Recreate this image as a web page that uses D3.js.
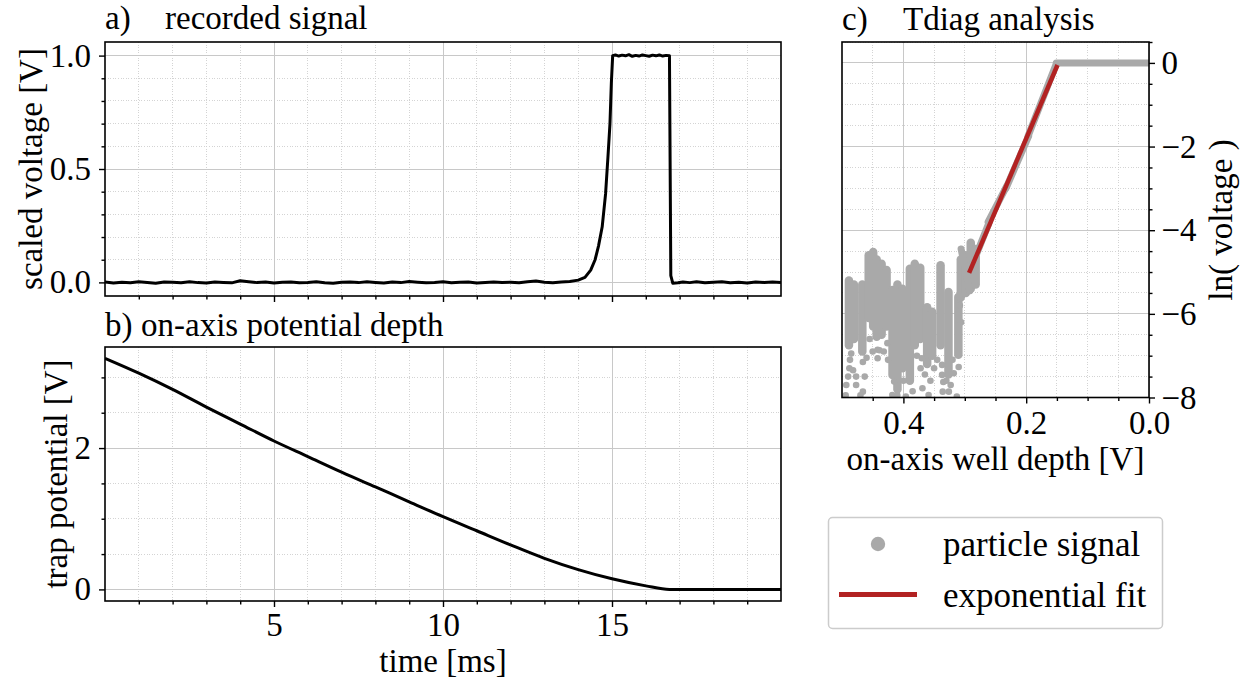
<!DOCTYPE html>
<meta charset="utf-8">
<style>
body { margin: 0; background: #fff; }
svg text { font-family: "Liberation Serif", "Times New Roman", serif; fill: #000; }
.grid-major line { stroke: #c8c8c8; stroke-width: 1; shape-rendering: crispEdges; }
.grid-minor line { stroke: #cfcfcf; stroke-width: 0.9; stroke-dasharray: 1,1.6; shape-rendering: crispEdges; }
.ax .tick line { stroke: #000; stroke-width: 1.4; }
.ax .domain { display: none; }
</style>
<body>
<svg width="1247" height="681"></svg>
<script src="https://d3js.org/d3.v7.min.js"></script>
<script>

// a) recorded signal  [time ms, scaled voltage V]
var recordedSignal = [
  [0,0.002],[0.25,-0.003],[0.5,0.001],[0.75,-0.002],[1,0.003],[1.25,0],[1.5,-0.004],[1.75,0.002],
  [2,0.001],[2.25,-0.002],[2.5,0.003],[2.75,-0.001],[3,-0.003],[3.25,0.002],[3.5,0],[3.75,-0.002],
  [4,0.007],[4.25,0.003],[4.5,-0.001],[4.75,0.002],[5,-0.003],[5.25,0.001],[5.5,0.002],[5.75,-0.002],
  [6,0],[6.25,0.003],[6.5,-0.002],[6.75,-0.004],[7,0.001],[7.25,0.002],[7.5,-0.001],[7.75,0.003],
  [8,0],[8.25,-0.003],[8.5,0.002],[8.75,-0.001],[9,0.004],[9.25,0.001],[9.5,-0.002],[9.75,0],
  [10,0.003],[10.25,-0.002],[10.5,0.001],[10.75,0.002],[11,-0.003],[11.25,0],[11.5,0.002],[11.75,-0.001],
  [12,0.001],[12.25,-0.002],[12.5,0.003],[12.75,0.006],[13,0.001],[13.25,-0.002],[13.5,0.002],[13.75,0.004],
  [14,0.01],[14.2,0.022],[14.37,0.054],[14.5,0.1],[14.6,0.16],[14.71,0.245],[14.81,0.39],[14.88,0.553],
  [14.94,0.7],[14.98,0.877],[15.02,1.0],
  [15.1,1.003],[15.2,0.998],[15.3,1.002],[15.4,0.999],[15.5,1.004],[15.6,0.997],[15.7,1.001],[15.8,0.998],
  [15.9,1.003],[16,1.0],[16.1,0.997],[16.2,1.002],[16.3,0.999],[16.4,1.003],[16.5,0.998],[16.6,1.001],[16.7,0.999],
  [16.74,0.03],[16.8,-0.004],[16.95,-0.002],[17.1,0.002],[17.3,-0.001],[17.5,0.003],[17.75,-0.002],[18,0.001],
  [18.25,0.003],[18.5,-0.002],[18.75,0.001],[19,-0.003],[19.25,0.002],[19.5,0],[19.75,0.002],[20,-0.001]
];

// b) on-axis potential depth
var potentialTime  = [0, 1, 2, 3, 4, 5, 6, 7, 8, 9, 10, 11, 12, 13, 14, 15, 16, 16.7, 17, 18, 19, 20];
var potentialDepth = [3.27, 3.06, 2.83, 2.58, 2.34, 2.10, 1.88, 1.66, 1.45, 1.24, 1.03, 0.83, 0.63, 0.44, 0.28, 0.15, 0.05, 0, 0, 0, 0, 0];

// c) Tdiag analysis: dense runs of particle-signal dots [depth, lnTop, lnBottom]
var noiseColumns = [
  [0.4887,-5.2,-6.75],[0.4806,-5.3,-6.6],[0.4669,-5.3,-6.9],
  [0.4565,-4.6,-6.1],[0.4492,-4.52,-6.3],[0.4435,-4.7,-6.55],
  [0.4355,-4.8,-6.5],[0.4274,-4.95,-6.3],[0.4177,-5.43,-7.46],
  [0.4097,-5.3,-7.8],[0.4016,-5.4,-7.3],[0.3895,-4.92,-7.6],
  [0.3815,-4.8,-6.75],[0.3726,-4.9,-6.6],[0.3613,-5.84,-7.2],[0.3532,-5.95,-7.0],
  [0.3395,-4.84,-6.75],[0.3266,-5.48,-7.45],[0.3105,-5.6,-6.98],
  [0.3065,-4.7,-5.6],[0.2984,-4.6,-5.5],[0.2903,-4.3,-5.4],[0.2823,-4.45,-5.3]
];
// isolated dots [depth, ln(voltage)]
var noiseDots = [
  [0.493,-7.7],[0.49,-7.5],[0.487,-7.1],[0.482,-7.35],[0.477,-7.7],[0.477,-7.5],[0.466,-7.15],[0.463,-7.5],
  [0.466,-7.86],[0.442,-6.86],[0.442,-7.06],[0.439,-6.87],[0.418,-7.94],[0.396,-7.98],[0.369,-7.78],[0.37,-7.06],
  [0.359,-7.94],[0.356,-7.6],[0.337,-7.22],[0.337,-7.46],[0.335,-7.63],[0.336,-7.86],[0.326,-7.86],[0.318,-7.42],
  [0.31,-7.27],[0.313,-7.98],[0.323,-7.7],[0.45,-6.9],[0.426,-6.7],[0.47,-7.95],
  [0.485,-6.95],[0.488,-7.3],[0.46,-7.05],[0.455,-6.6],[0.432,-6.9],[0.425,-7.1],[0.415,-7.62],
  [0.41,-7.95],[0.4,-7.6],[0.385,-7.85],[0.378,-7.0],[0.372,-7.3],[0.365,-7.45],[0.35,-7.3],
  [0.345,-7.1],[0.33,-7.6],[0.32,-7.1],[0.308,-5.8],[0.306,-6.2],[0.494,-7.95]
];
// runs of dots along the exponential rise and the plateau [[depth, ln], [depth, ln]]
var trendRuns = [
  [[0.306,-4.45],[0.292,-5.45]],
  [[0.291,-4.95],[0.26,-3.8]],
  [[0.262,-3.8],[0.232,-2.95]],
  [[0.233,-3.0],[0.196,-1.75]],
  [[0.197,-1.75],[0.151,-0.02]],
  [[0.151,0],[0,0]]
];
var fitDepth = [0.293, 0.149];
var fitLn    = [-5.02, -0.05];

var legendLabels = ["particle signal", "exponential fit"];

var GRAY = "#a9a9a9", RED = "#b22222";

var svg = d3.select("svg");

var A = {l:105, r:781, t:42, b:296};
var B = {l:105, r:781, t:347, b:601};
var C = {l:842, r:1149, t:42, b:397.5};

var xA = d3.scaleLinear().domain([0,20]).range([A.l, A.r]);
var yA = d3.scaleLinear().domain([-0.06,1.06]).range([A.b, A.t]);
var xB = d3.scaleLinear().domain([0,20]).range([B.l, B.r]);
var yB = d3.scaleLinear().domain([-0.164,3.43]).range([B.b, B.t]);
var xC = d3.scaleLinear().domain([0.5,0]).range([C.l, C.r]);
var yC = d3.scaleLinear().domain([-8,0.5]).range([C.b, C.t]);

var timeMajor = [5,10,15];
var timeMinor = d3.range(1,20).filter(function(d){ return d%5 !== 0; });

function grid(box, xs, ys, xMaj, xMin, yMaj, yMin) {
  var gm = svg.append("g").attr("class","grid-minor");
  gm.selectAll(".vx").data(xMin).enter().append("line")
    .attr("x1", xs).attr("x2", xs).attr("y1", box.t).attr("y2", box.b);
  gm.selectAll(".hy").data(yMin).enter().append("line")
    .attr("y1", ys).attr("y2", ys).attr("x1", box.l).attr("x2", box.r);
  var gM = svg.append("g").attr("class","grid-major");
  gM.selectAll(".vx").data(xMaj).enter().append("line")
    .attr("x1", xs).attr("x2", xs).attr("y1", box.t).attr("y2", box.b);
  gM.selectAll(".hy").data(yMaj).enter().append("line")
    .attr("y1", ys).attr("y2", ys).attr("x1", box.l).attr("x2", box.r);
}

function clip(id, box) {
  svg.append("clipPath").attr("id", id).append("rect")
    .attr("x", box.l).attr("y", box.t).attr("width", box.r-box.l).attr("height", box.b-box.t);
}

function axis(gen, scale, pos, vals, size, fmt, pad) {
  var a = gen(scale).tickValues(vals).tickSize(size).tickSizeOuter(0)
    .tickFormat(fmt || "").tickPadding(pad || 0);
  var g = svg.append("g").attr("class","ax").attr("transform", pos).call(a);
  g.attr("font-family", null).attr("font-size", 33);
  return g;
}

function frame(box) {
  svg.append("rect").attr("x", box.l).attr("y", box.t)
    .attr("width", box.r-box.l).attr("height", box.b-box.t)
    .attr("fill","none").attr("stroke","#000").attr("stroke-width",1.6);
}

// ---------- panel a ----------
grid(A, xA, yA, timeMajor, timeMinor, [0,0.5,1.0], [0.1,0.2,0.3,0.4,0.6,0.7,0.8,0.9]);
clip("clipA", A);
svg.append("path").datum(recordedSignal)
  .attr("clip-path","url(#clipA)")
  .attr("fill","none").attr("stroke","#000").attr("stroke-width",3)
  .attr("stroke-linejoin","round")
  .attr("d", d3.line().x(function(d){return xA(d[0]);}).y(function(d){return yA(d[1]);}));
frame(A);
axis(d3.axisBottom, xA, "translate(0,"+A.b+")", timeMajor, 6);
axis(d3.axisBottom, xA, "translate(0,"+A.b+")", timeMinor, 3.5);
axis(d3.axisLeft, yA, "translate("+A.l+",0)", [0,0.5,1.0], 6, d3.format(".1f"), 8);
axis(d3.axisLeft, yA, "translate("+A.l+",0)", [0.1,0.2,0.3,0.4,0.6,0.7,0.8,0.9], 3.5);

// ---------- panel b ----------
var bMinorY = [0.5,1,1.5,2.5,3];
grid(B, xB, yB, timeMajor, timeMinor, [0,2], bMinorY);
clip("clipB", B);
svg.append("path").datum(d3.zip(potentialTime, potentialDepth))
  .attr("clip-path","url(#clipB)")
  .attr("fill","none").attr("stroke","#000").attr("stroke-width",3)
  .attr("d", d3.line().curve(d3.curveMonotoneX)
    .x(function(d){return xB(d[0]);}).y(function(d){return yB(d[1]);}));
frame(B);
axis(d3.axisBottom, xB, "translate(0,"+B.b+")", timeMajor, 6, d3.format("d"), 6);
axis(d3.axisBottom, xB, "translate(0,"+B.b+")", timeMinor, 3.5);
axis(d3.axisLeft, yB, "translate("+B.l+",0)", [0,2], 6, d3.format("d"), 8);
axis(d3.axisLeft, yB, "translate("+B.l+",0)", bMinorY, 3.5);

// ---------- panel c ----------
var cMajorX = [0.4,0.2,0.0], cMinorX = [0.45,0.35,0.3,0.25,0.15,0.1,0.05];
var cMajorY = [0,-2,-4,-6,-8];
var cMinorY = [0.5,-0.5,-1,-1.5,-2.5,-3,-3.5,-4.5,-5,-5.5,-6.5,-7,-7.5];
grid(C, xC, yC, cMajorX, cMinorX, cMajorY, cMinorY);
clip("clipC", C);
var gc = svg.append("g").attr("clip-path","url(#clipC)");
gc.selectAll(".col").data(noiseColumns).enter().append("line")
  .attr("x1", function(d){return xC(d[0]);}).attr("x2", function(d){return xC(d[0]);})
  .attr("y1", function(d){return yC(d[1]);}).attr("y2", function(d){return yC(d[2]);})
  .attr("stroke", GRAY).attr("stroke-width", 8.5).attr("stroke-linecap","round");
gc.selectAll(".run").data(trendRuns).enter().append("line")
  .attr("x1", function(d){return xC(d[0][0]);}).attr("y1", function(d){return yC(d[0][1]);})
  .attr("x2", function(d){return xC(d[1][0]);}).attr("y2", function(d){return yC(d[1][1]);})
  .attr("stroke", GRAY).attr("stroke-width", 7).attr("stroke-linecap","round");
gc.selectAll(".dot").data(noiseDots).enter().append("circle")
  .attr("cx", function(d){return xC(d[0]);}).attr("cy", function(d){return yC(d[1]);})
  .attr("r", 3.3).attr("fill", GRAY);
gc.append("path").datum(d3.zip(fitDepth, fitLn))
  .attr("fill","none").attr("stroke", RED).attr("stroke-width", 4.5)
  .attr("d", d3.line().x(function(d){return xC(d[0]);}).y(function(d){return yC(d[1]);}));
frame(C);
axis(d3.axisBottom, xC, "translate(0,"+C.b+")", cMajorX, 6, d3.format(".1f"), 7);
axis(d3.axisBottom, xC, "translate(0,"+C.b+")", cMinorX, 3.5);
axis(d3.axisRight, yC, "translate("+C.r+",0)", cMajorY, 6, d3.format("d"), 6.5);
axis(d3.axisRight, yC, "translate("+C.r+",0)", cMinorY, 3.5);

// ---------- texts ----------
function label(txt, x, y, anchor, rot, size) {
  var t = svg.append("text").text(txt).attr("font-size", size || 33)
    .attr("text-anchor", anchor || "start");
  if (rot) t.attr("transform", "translate("+x+","+y+") rotate("+rot+")");
  else t.attr("x", x).attr("y", y);
  return t;
}
label("a)", 105, 29);
label("recorded signal", 165, 29);
label("b)", 105, 336);
label("on-axis potential depth", 141, 336);
label("c)", 842, 30);
label("Tdiag analysis", 903, 30);
label("scaled voltage [V]", 42, 169, "middle", -90);
label("trap potential [V]", 67, 474, "middle", -90);
label("time [ms]", 443, 672, "middle");
label("on-axis well depth [V]", 995.5, 470, "middle");
label("ln( voltage )", 1232, 220, "middle", -90);

// ---------- legend ----------
var lg = svg.append("g");
lg.append("rect").attr("x", 828.5).attr("y", 517.5).attr("width", 334).attr("height", 111)
  .attr("rx", 4).attr("fill", "#fff").attr("stroke", "#cccccc").attr("stroke-width", 1.5);
lg.append("circle").attr("cx", 878).attr("cy", 544).attr("r", 7.2).attr("fill", GRAY);
lg.append("line").attr("x1", 839).attr("x2", 917).attr("y1", 594.5).attr("y2", 594.5)
  .attr("stroke", RED).attr("stroke-width", 5);
lg.selectAll(".lt").data(legendLabels).enter().append("text")
  .attr("x", 943).attr("y", function(d,i){ return 556 + i*50.7; })
  .attr("font-size", 35).text(function(d){ return d; });

</script>
</body>
